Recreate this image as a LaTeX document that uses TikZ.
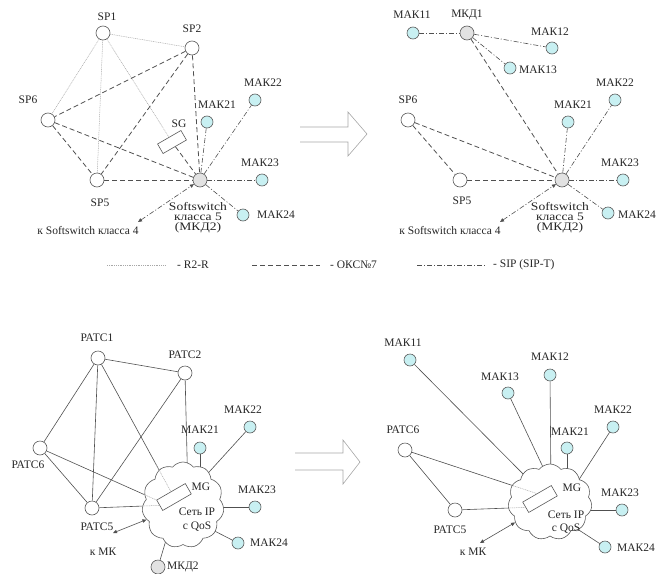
\documentclass[tikz,border=0pt]{standalone}
\usepackage{fontspec}
\usepackage{graphicx}
\setmainfont{Liberation Serif}
\usetikzlibrary{shapes.symbols,arrows.meta,calc}
\definecolor{lc}{HTML}{505050}
\definecolor{lightl}{HTML}{A8A8A8}
\definecolor{nd}{HTML}{5A5A5A}
\definecolor{cyanf}{RGB}{200,240,242}
\definecolor{grayf}{HTML}{E2E2E2}
\definecolor{txt}{HTML}{262626}
\pgfdeclarelayer{lines}
\pgfdeclarelayer{cloudl}
\pgfsetlayers{lines,cloudl,main}
\newcommand{\widetxt}[1]{\scalebox{1.18}[1]{#1}}
\begin{document}
\begin{tikzpicture}[x=1pt,y=-1pt, font=\fontsize{11.5}{11.5}\selectfont, text=txt,
 pnode/.style={circle, draw=nd, line width=0.6pt, fill=white, minimum size=14pt, inner sep=0pt},
 mak/.style={circle, draw=nd, line width=0.6pt, fill=cyanf, minimum size=12pt, inner sep=0pt},
 gnode/.style={circle, draw=nd, line width=0.6pt, fill=grayf, minimum size=14pt, inner sep=0pt},
 lbl/.style={inner sep=0pt},
 rtwo/.style={draw=lightl, line width=0.5pt, dash pattern=on 1pt off 0.8pt},
 oks/.style={draw=lc, line width=0.8pt, dash pattern=on 5pt off 3pt},
 sip/.style={draw=lc, line width=0.6pt, dash pattern=on 5pt off 2pt on 1pt off 2pt},
 sol/.style={draw=lc, line width=0.6pt},
 tips/.style={{Triangle[length=4pt,width=3.5pt]}-{Triangle[length=4pt,width=3.5pt]}},
 gw/.style={draw=nd, fill=white, rectangle, minimum width=27pt, minimum height=11pt, rotate=30, inner sep=0pt, line width=0.6pt},
 mg/.style={draw=nd, fill=white, rectangle, minimum width=33pt, minimum height=12pt, rotate=30, inner sep=0pt, line width=0.6pt},
 cl/.style={cloud, cloud puffs=11, cloud puff arc=105, cloud ignores aspect, draw=nd, fill=white, inner sep=0pt, line width=0.6pt},
 bigarrow/.style={draw=gray!70, line width=0.6pt},
 sslbl/.style={lbl, align=center, font=\fontsize{11.5}{10}\selectfont}
]
\useasboundingbox (0,0) rectangle (661,573);

% ================= top-left =================
\node[pnode] (aSP1) at (103,33) {};
\node[pnode] (aSP2) at (192,48) {};
\node[pnode] (aSP6) at (48,120) {};
\node[pnode] (aSP5) at (97,180) {};
\node[gnode] (aSS) at (200,180) {};
\node[mak] (aM21) at (207,122) {};
\node[mak] (aM22) at (255,100) {};
\node[mak] (aM23) at (262,180) {};
\node[mak] (aM24) at (243,215) {};
\node[gw] (aSG) at (172,142) {};
\coordinate (aK) at (138,222);
\node[lbl] (laSP1) at (107,17) {SP1};
\node[lbl] (laSP2) at (192,29) {SP2};
\node[lbl] (laSP6) at (28,100) {SP6};
\node[lbl] (laSP5) at (100,203) {SP5};
\node[lbl] (laSG) at (179,124) {SG};
\node[lbl] (laM21) at (217,105) {МАК21};
\node[lbl] (laM22) at (263,83) {МАК22};
\node[lbl] (laM23) at (260,163) {МАК23};
\node[lbl, anchor=west] (laM24) at (257,215) {МАК24};
\node[sslbl] (laSS) at (198,218) {\widetxt{Softswitch}\\\widetxt{класса 5}\\\widetxt{(МКД2)}};
\node[lbl] (laK) at (88,231) {к Softswitch класса 4};
\begin{pgfonlayer}{lines}
\draw[rtwo] (aSP1) -- (aSP2);
\draw[rtwo] (aSP1) -- (aSP6);
\draw[rtwo] (aSP1) -- (aSP5);
\draw[rtwo] (aSP1) -- (aSG);
\draw[oks] (aSP2) -- (aSP6);
\draw[oks] (aSP2) -- (aSP5);
\draw[oks] (aSP2) -- (aSS);
\draw[oks] (aSP6) -- (aSS);
\draw[oks] (aSP6) -- (aSP5);
\draw[oks] (aSP5) -- (aSS);
\draw[oks] (aSG) -- (aSS);
\draw[sip] (aSS) -- (aM21);
\draw[sip] (aSS) -- (aM22);
\draw[sip] (aSS) -- (aM23);
\draw[sip] (aSS) -- (aM24);
\draw[sip, tips] (aK) -- (aSS);
\end{pgfonlayer}

% ================= top-right =================
\node[mak] (bM11) at (413,33) {};
\node[gnode] (bMKD1) at (467,33) {};
\node[mak] (bM12) at (552,48) {};
\node[mak] (bM13) at (510,68) {};
\node[pnode] (bSP6) at (408,120) {};
\node[pnode] (bSP5) at (460,180) {};
\node[gnode] (bSS) at (562,180) {};
\node[mak] (bM21) at (568,122) {};
\node[mak] (bM22) at (615,100) {};
\node[mak] (bM23) at (623,180) {};
\node[mak] (bM24) at (608,213) {};
\coordinate (bK) at (500,222);
\node[lbl] (lbM11) at (412,15) {МАК11};
\node[lbl] (lbMKD1) at (467,15) {МКД1};
\node[lbl] (lbM12) at (550,32) {МАК12};
\node[lbl, anchor=west] (lbM13) at (519,70) {МАК13};
\node[lbl] (lbSP6) at (408,100) {SP6};
\node[lbl] (lbSP5) at (462,201) {SP5};
\node[lbl] (lbM21) at (573,105) {МАК21};
\node[lbl] (lbM22) at (615,83) {МАК22};
\node[lbl] (lbM23) at (620,163) {МАК23};
\node[lbl, anchor=west] (lbM24) at (618,215) {МАК24};
\node[sslbl] (lbSS) at (560,218) {\widetxt{Softswitch}\\\widetxt{класса 5}\\\widetxt{(МКД2)}};
\node[lbl] (lbK) at (450,231) {к Softswitch класса 4};
\begin{pgfonlayer}{lines}
\draw[sip] (bM11) -- (bMKD1);
\draw[sip] (bMKD1) -- (bM12);
\draw[sip] (bMKD1) -- (bM13);
\draw[oks] (bMKD1) -- (bSS);
\draw[oks] (bSP6) -- (bSS);
\draw[oks] (bSP6) -- (bSP5);
\draw[oks] (bSP5) -- (bSS);
\draw[sip] (bSS) -- (bM21);
\draw[sip] (bSS) -- (bM22);
\draw[sip] (bSS) -- (bM23);
\draw[sip] (bSS) -- (bM24);
\draw[sip, tips] (bK) -- (bSS);
\end{pgfonlayer}

% big hollow arrows
\draw[bigarrow] (300,127) -- (348,127) -- (348,112) -- (367,134) -- (348,156) -- (348,142) -- (300,142);
\draw[bigarrow] (295,453) -- (343,453) -- (343,440) -- (360,462) -- (343,484) -- (343,470) -- (295,470);

% legend
\coordinate (lg1a) at (107,265); \coordinate (lg1b) at (165,265);
\coordinate (lg2a) at (252,265); \coordinate (lg2b) at (320,265);
\coordinate (lg3a) at (417,265); \coordinate (lg3b) at (485,265);
\draw[rtwo] (lg1a) -- (lg1b);
\draw[oks] (lg2a) -- (lg2b);
\draw[sip] (lg3a) -- (lg3b);
\node[lbl, anchor=west] (lg1t) at (177,265) {- R2-R};
\node[lbl, anchor=west] (lg2t) at (330,265) {- ОКС№7};
\node[lbl, anchor=west] (lg3t) at (493,265) {- SIP (SIP-T)};

% ================= bottom-left =================
\node[pnode] (cP1) at (98,358) {};
\node[pnode] (cP2) at (185,373) {};
\node[pnode] (cP6) at (40,448) {};
\node[pnode] (cP5) at (92,508) {};
\node[mak] (cM21) at (200,448) {};
\node[mak] (cM22) at (250,427) {};
\node[mak] (cM23) at (255,507) {};
\node[mak] (cM24) at (238,543) {};
\node[gnode] (cMKD) at (158,567) {};
\begin{pgfonlayer}{cloudl}
\node[cl, minimum width=82pt, minimum height=86pt] (cC) at (183,505) {};
\end{pgfonlayer}
\node[mg] (cMG) at (174,497) {};
\node[lbl] (lcMGt) at (201,487) {MG};
\node[lbl] (lcNet) at (197,512) {Сеть IP};
\node[lbl] (lcQoS) at (197,527) {с QoS};
\node[lbl] (lcP1) at (97,338) {РАТС1};
\node[lbl] (lcP2) at (185,355) {РАТС2};
\node[lbl] (lcP6) at (28,465) {РАТС6};
\node[lbl] (lcP5) at (97,527) {РАТС5};
\node[lbl] (lcM21) at (200,430) {МАК21};
\node[lbl] (lcM22) at (243,410) {МАК22};
\node[lbl] (lcM23) at (257,490) {МАК23};
\node[lbl, anchor=west] (lcM24) at (250,543) {МАК24};
\node[lbl, anchor=west] (lcMKD) at (167,567) {МКД2};
\node[lbl] (lcK) at (103,552) {к МК};
\coordinate (cK) at (113,533);
\coordinate (ci21) at (200,495);
\coordinate (ci22) at (200,482);
\coordinate (ci23) at (200,507);
\coordinate (ci24) at (195,521);
\coordinate (ciP2) at (188,495);
\coordinate (ciMKD) at (172,520);
\coordinate (cd1) at ($(cP1)!0.79!(cMG.north)$);
\coordinate (cd6) at ($(cP6)!0.88!(cMG.north west)$);
\coordinate (cd5) at ($(cP5)!0.74!(cMG.west)$);
\begin{pgfonlayer}{lines}
\draw[sol] (cP1) -- (cP2);
\draw[sol] (cP1) -- (cP6);
\draw[sol] (cP1) -- (cP5);
\draw[sol] (cP1) -- (cMG.north);
\draw[sol] (cP2) -- (cP5);
\draw[sol] (cP2) -- (ciP2);
\draw[sol] (cP6) -- (cP5);
\draw[sol] (cP6) -- (cMG.north west);
\draw[sol] (cP5) -- (cMG.west);
\draw[sol] (cM21) -- (ci21);
\draw[sol] (cM22) -- (ci22);
\draw[sol] (cM23) -- (ci23);
\draw[sol] (cM24) -- (ci24);
\draw[sol] (cMKD) -- (ciMKD);
\end{pgfonlayer}
\begin{pgfonlayer}{cloudl}
\draw[rtwo] (cd1) -- (cMG.north);
\draw[rtwo] (cd6) -- (cMG.north west);
\draw[rtwo] (cd5) -- (cMG.west);
\end{pgfonlayer}
\draw[sol, tips] (cK) -- (cC);

% ================= bottom-right =================
\node[mak] (dM11) at (410,360) {};
\node[mak] (dM12) at (550,375) {};
\node[mak] (dM13) at (508,393) {};
\node[mak] (dM22) at (613,427) {};
\node[mak] (dM21) at (567,448) {};
\node[pnode] (dP6) at (405,450) {};
\node[pnode] (dP5) at (455,510) {};
\node[mak] (dM23) at (622,510) {};
\node[mak] (dM24) at (605,547) {};
\begin{pgfonlayer}{cloudl}
\node[cl, minimum width=84pt, minimum height=76pt] (dC) at (550,502) {};
\end{pgfonlayer}
\node[mg] (dMG) at (540,499) {};
\node[lbl] (ldMGt) at (572,488) {MG};
\node[lbl] (ldNet) at (566,515) {Сеть IP};
\node[lbl] (ldQoS) at (566,529) {с QoS};
\node[lbl] (ldM11) at (403,343) {МАК11};
\node[lbl] (ldM13) at (500,377) {МАК13};
\node[lbl] (ldM12) at (550,357) {МАК12};
\node[lbl] (ldM22) at (613,410) {МАК22};
\node[lbl] (ldM21) at (570,432) {МАК21};
\node[lbl] (ldP6) at (403,430) {РАТС6};
\node[lbl] (ldP5) at (450,530) {РАТС5};
\node[lbl] (ldM23) at (620,493) {МАК23};
\node[lbl, anchor=west] (ldM24) at (617,548) {МАК24};
\node[lbl] (ldK) at (473,552) {к МК};
\coordinate (dK) at (480,543);
\coordinate (di11) at (535,486);
\coordinate (di13) at (550,482);
\coordinate (di12) at (551,490);
\coordinate (di21) at (567,490);
\coordinate (di22) at (569,495);
\coordinate (di23) at (570,510);
\coordinate (di24) at (565,521);
\coordinate (dd6) at ($(dP6)!0.82!(dMG.north)$);
\coordinate (dd5) at ($(dP5)!0.76!(dMG.west)$);
\begin{pgfonlayer}{lines}
\draw[sol] (dM11) -- (di11);
\draw[sol] (dM13) -- (di13);
\draw[sol] (dM12) -- (di12);
\draw[sol] (dM21) -- (di21);
\draw[sol] (dM22) -- (di22);
\draw[sol] (dM23) -- (di23);
\draw[sol] (dM24) -- (di24);
\draw[sol] (dP6) -- (dP5);
\draw[sol] (dP6) -- (dMG.north);
\draw[sol] (dP5) -- (dMG.west);
\end{pgfonlayer}
\begin{pgfonlayer}{cloudl}
\draw[rtwo] (dd6) -- (dMG.north);
\draw[rtwo] (dd5) -- (dMG.west);
\end{pgfonlayer}
\draw[sol, tips] (dK) -- (dC);
\end{tikzpicture}
\end{document}
